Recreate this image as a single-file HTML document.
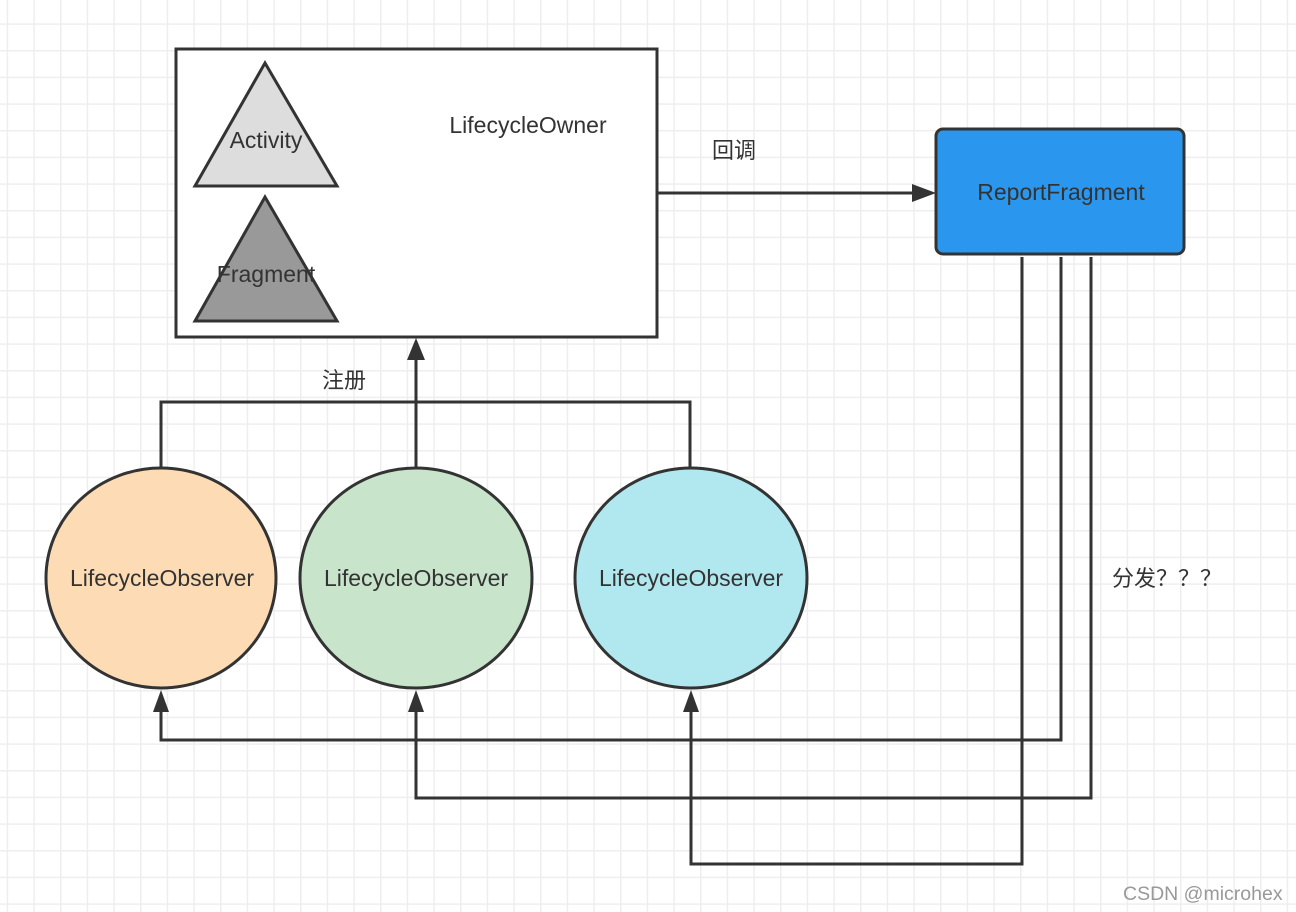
<!DOCTYPE html>
<html><head><meta charset="utf-8"><style>
html,body{margin:0;padding:0;background:#fff}
svg{display:block}
text{font-family:"Liberation Sans","Noto Sans CJK SC",sans-serif;fill:#333}
</style></head><body>
<svg width="1296" height="912" viewBox="0 0 1296 912" xmlns="http://www.w3.org/2000/svg">
<defs>
<pattern id="g" x="6.67" y="23.33" width="26.667" height="26.667" patternUnits="userSpaceOnUse">
<path d="M0 0H26.667M0 0V26.667" stroke="#eeeeee" stroke-width="3" fill="none"/>
</pattern>
</defs>
<rect width="1296" height="912" fill="url(#g)"/>
<g stroke="#333" stroke-width="3" fill="none">
<rect x="176" y="49" width="481" height="288" fill="#fff"/>
<path d="M657 193H918"/>
<path d="M161 467V402H690V467"/>
<path d="M416 467V358"/>
<path d="M1061 257V740H161V708"/>
<path d="M1091 257V798H416V708"/>
<path d="M1022 257V864H691V708"/>
</g>
<g fill="#333">
<path d="M936 193L912 184V202Z"/>
<path d="M416 338L407 360H425Z"/>
<path d="M161 690L153 712H169Z"/>
<path d="M416 690L408 712H424Z"/>
<path d="M691 690L683 712H699Z"/>
</g>
<g stroke="#333" stroke-width="3">
<path d="M265 63L195 186H337Z" fill="#dddddd"/>
<path d="M265 197L195 321H337Z" fill="#999999"/>
<rect x="936" y="129" width="248" height="125" rx="7" fill="#2a96ed"/>
<ellipse cx="161" cy="578" rx="115" ry="110" fill="#fddcb5"/>
<ellipse cx="416" cy="578" rx="116" ry="110" fill="#c8e5cb"/>
<ellipse cx="691" cy="578" rx="116" ry="110" fill="#b1e8ef"/>
</g>
<g font-size="23">
<text x="266" y="148" text-anchor="middle">Activity</text>
<text x="266" y="282" text-anchor="middle">Fragment</text>
<text x="528" y="133" text-anchor="middle">LifecycleOwner</text>
<text x="1061" y="200" text-anchor="middle">ReportFragment</text>
<text x="162" y="586" text-anchor="middle">LifecycleObserver</text>
<text x="416" y="586" text-anchor="middle">LifecycleObserver</text>
<text x="691" y="586" text-anchor="middle">LifecycleObserver</text>
</g>
<g font-size="22">
<text x="734" y="158" text-anchor="middle">回调</text>
<text x="344" y="388" text-anchor="middle">注册</text>
<text x="1112" y="586">分发？？？</text>
</g>
<text x="1123" y="900" font-size="19.5" style="fill:#999">CSDN @microhex</text>
</svg>
</body></html>
